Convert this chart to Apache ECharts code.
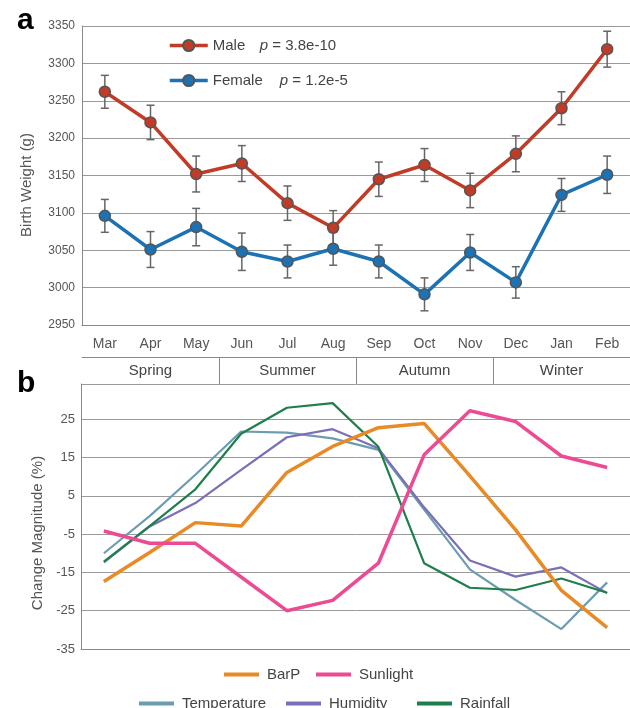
<!DOCTYPE html>
<html><head><meta charset="utf-8">
<script src="https://cdn.jsdelivr.net/npm/echarts@6/dist/echarts.min.js"></script>
<style>html,body{margin:0;padding:0;background:#fff}#c{width:630px;height:708px}</style>
</head><body><div id="c"></div>
<script>
const months = ['Mar','Apr','May','Jun','Jul','Aug','Sep','Oct','Nov','Dec','Jan','Feb'];
const seasons = ['Spring','Summer','Autumn','Winter'];
const maleWeight = [3262, 3221, 3152, 3166, 3113, 3080, 3145, 3164, 3130, 3179, 3240, 3319];
const maleErr =    [22, 23, 24, 24, 23, 23, 23, 22, 23, 24, 22, 24];
const femaleWeight = [3096, 3051, 3081, 3048, 3035, 3052, 3035, 2991, 3047, 3007, 3124, 3151];
const femaleErr =    [22, 24, 25, 25, 22, 22, 22, 22, 24, 21, 22, 25];
const maleP = '3.8e-10';
const femaleP = '1.2e-5';
const barP =        [-17.4, -9.8, -2.0, -2.9, 11.1, 17.9, 22.8, 23.9, 10.2, -3.9, -19.7, -29.4];
const sunlight =    [-4.2, -7.4, -7.4, -16.2, -25.0, -22.3, -12.6, 15.7, 27.2, 24.4, 15.4, 12.4];
const temperature = [-10.0, -0.3, 10.5, 21.8, 21.5, 20.0, 17.0, 1.4, -14.2, -22.2, -29.8, -17.6];
const humidity =    [-12.4, -3.0, 3.1, 11.8, 20.3, 22.4, 17.4, 2.0, -11.9, -16.1, -13.7, -20.4];
const rainfall =    [-12.2, -2.9, 6.7, 21.2, 28.0, 29.2, 17.8, -12.6, -19.0, -19.6, -16.6, -20.3];

const FONT = "'Liberation Sans', Arial, sans-serif";
const GRID = '#9a9a9a';
const AXIS = '#8a8a8a';
const TXT = '#555';

const chart = echarts.init(document.getElementById('c'), null, {renderer:'canvas'});

function errData(vals, errs){ return vals.map((v,i)=>[i, v-errs[i], v+errs[i]]); }
function errRender(params, api){
  const x = api.value(0), lo = api.value(1), hi = api.value(2);
  const a = api.coord([x, hi]), b = api.coord([x, lo]);
  const w = 4, st = {stroke:'#666', lineWidth:1.5};
  return {type:'group', children:[
    {type:'line', shape:{x1:a[0], y1:a[1], x2:b[0], y2:b[1]}, style:st},
    {type:'line', shape:{x1:a[0]-w, y1:a[1], x2:a[0]+w, y2:a[1]}, style:st},
    {type:'line', shape:{x1:b[0]-w, y1:b[1], x2:b[0]+w, y2:b[1]}, style:st}
  ]};
}

function legendItem(name, left, top){
  return {data:[name], left:left, top:top, padding:0, itemWidth:35, itemHeight:4, icon:'rect',
    textStyle:{fontFamily:FONT, fontSize:15, color:'#444', padding:[0,0,0,3]}, selectedMode:false};
}

const option = {
  animation:false,
  textStyle:{fontFamily:FONT},
  grid:[
    {left:82, top:26, width:553, height:299},
    {left:81, top:384, width:553, height:265},
    {left:82, top:357, width:553, height:27}
  ],
  xAxis:[
    {gridIndex:0, type:'category', data:months, boundaryGap:true,
      axisLine:{onZero:false, lineStyle:{color:AXIS, width:1}},
      axisTick:{alignWithLabel:true, length:8, lineStyle:{color:AXIS}},
      axisLabel:{color:TXT, fontSize:14, margin:12, fontFamily:FONT}},
    {gridIndex:1, type:'category', data:months, boundaryGap:true,
      axisLine:{onZero:false, lineStyle:{color:AXIS}}, axisTick:{show:false}, axisLabel:{show:false}},
    {gridIndex:2, type:'category', data:seasons, boundaryGap:true, position:'top',
      axisLine:{onZero:false, lineStyle:{color:AXIS}}, axisTick:{show:false},
      axisLabel:{inside:true, color:'#444', fontSize:15, margin:6, fontFamily:FONT},
      splitLine:{show:true, interval:function(i){return i>0;}, lineStyle:{color:AXIS}}}
  ],
  yAxis:[
    {gridIndex:0, type:'value', min:2950, max:3350, interval:50,
      axisLine:{show:true, lineStyle:{color:AXIS}}, axisTick:{show:false},
      axisLabel:{color:TXT, fontSize:12, margin:7, fontFamily:FONT, formatter:function(v){return String(v);}},
      splitLine:{lineStyle:{color:GRID}}},
    {gridIndex:1, type:'value', min:-35, max:34.2, interval:10,
      axisLine:{show:true, lineStyle:{color:AXIS}}, axisTick:{show:false},
      axisLabel:{color:TXT, fontSize:13, margin:6, fontFamily:FONT,
        formatter:function(v){ return (v > 30) ? '' : String(Math.round(v)); }},
      splitLine:{lineStyle:{color:GRID}}},
    {gridIndex:2, type:'value', show:false}
  ],
  legend:[
    {data:['Male','Female'], orient:'vertical', left:168, top:38, padding:0, itemWidth:38, itemHeight:14, itemGap:20,
      selectedMode:false, lineStyle:{width:3.5},
      textStyle:{fontFamily:FONT, fontSize:15, color:'#444',
        rich:{m:{width:47, fontSize:15, color:'#444', fontFamily:FONT}, f:{width:67, fontSize:15, color:'#444', fontFamily:FONT},
              p:{fontStyle:'italic', fontSize:15, color:'#444', fontFamily:FONT}, t:{fontSize:15, color:'#444', fontFamily:FONT}}},
      formatter:function(n){ return n==='Male' ? '{m|Male}{p|p}{t| = '+maleP+'}' : '{f|Female}{p|p}{t| = '+femaleP+'}'; }},
    legendItem('BarP', 224, 667),
    legendItem('Sunlight', 316, 667),
    legendItem('Temperature', 139, 696),
    legendItem('Humidity', 286, 696),
    legendItem('Rainfall', 417, 696)
  ],
  graphic:[
    {type:'text', x:17, y:21, style:{text:'a', font:'bold 30px '+FONT, fill:'#000', verticalAlign:'middle'}},
    {type:'text', x:17, y:384, style:{text:'b', font:'bold 30px '+FONT, fill:'#000', verticalAlign:'middle'}},
    {type:'text', x:27, y:185, rotation:Math.PI/2, style:{text:'Birth Weight (g)', font:'15px '+FONT, fill:TXT, align:'center', verticalAlign:'middle'}},
    {type:'text', x:38, y:533, rotation:Math.PI/2, style:{text:'Change Magnitude (%)', font:'15px '+FONT, fill:TXT, align:'center', verticalAlign:'middle'}}
  ],
  series:[
    {type:'custom', name:'maleErr', xAxisIndex:0, yAxisIndex:0, renderItem:errRender, data:errData(maleWeight, maleErr), encode:{x:0, y:[1,2]}, z:1},
    {type:'custom', name:'femaleErr', xAxisIndex:0, yAxisIndex:0, renderItem:errRender, data:errData(femaleWeight, femaleErr), encode:{x:0, y:[1,2]}, z:1},
    {type:'line', name:'Male', xAxisIndex:0, yAxisIndex:0, data:maleWeight, z:3,
      symbol:'circle', symbolSize:11, lineStyle:{color:'#c23b27', width:3.5},
      itemStyle:{color:'#c23b27', borderColor:'#555', borderWidth:1.5}},
    {type:'line', name:'Female', xAxisIndex:0, yAxisIndex:0, data:femaleWeight, z:3,
      symbol:'circle', symbolSize:11, lineStyle:{color:'#1b72b5', width:3.5},
      itemStyle:{color:'#1b72b5', borderColor:'#555', borderWidth:1.5}},
    {type:'line', name:'Temperature', xAxisIndex:1, yAxisIndex:1, data:temperature, symbol:'none',
      lineStyle:{color:'#6c9cb0', width:2.2}, itemStyle:{color:'#6c9cb0'}},
    {type:'line', name:'Humidity', xAxisIndex:1, yAxisIndex:1, data:humidity, symbol:'none',
      lineStyle:{color:'#7b6fb6', width:2.2}, itemStyle:{color:'#7b6fb6'}},
    {type:'line', name:'Rainfall', xAxisIndex:1, yAxisIndex:1, data:rainfall, symbol:'none',
      lineStyle:{color:'#1e7f4a', width:2.2}, itemStyle:{color:'#1e7f4a'}},
    {type:'line', name:'BarP', xAxisIndex:1, yAxisIndex:1, data:barP, symbol:'none',
      lineStyle:{color:'#e88a26', width:3.5}, itemStyle:{color:'#e88a26'}},
    {type:'line', name:'Sunlight', xAxisIndex:1, yAxisIndex:1, data:sunlight, symbol:'none',
      lineStyle:{color:'#ec4b93', width:3.5}, itemStyle:{color:'#ec4b93'}}
  ]
};
chart.setOption(option);
</script></body></html>
